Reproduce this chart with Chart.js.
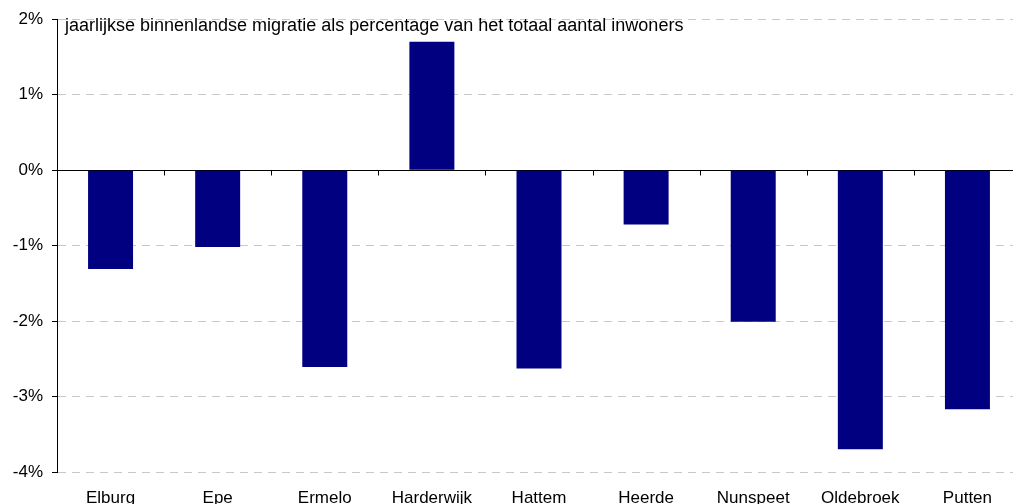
<!DOCTYPE html>
<html>
<head>
<meta charset="utf-8">
<script src="https://cdn.jsdelivr.net/npm/chart.js@4.4.1/dist/chart.umd.min.js"></script>
<style>
  html, body { margin: 0; padding: 0; background: #fff; overflow: hidden; }
  #wrap { width: 1021px; height: 504px; position: relative; }
</style>
</head>
<body>
<div id="wrap"><canvas id="c"></canvas></div>
<script>
// Gemeenten en jaarlijkse binnenlandse migratie (% van het aantal inwoners)
const gemeenten = ['Elburg', 'Epe', 'Ermelo', 'Harderwijk', 'Hattem', 'Heerde', 'Nunspeet', 'Oldebroek', 'Putten'];
const migratie = [-1.31, -1.02, -2.61, 1.70, -2.63, -0.72, -2.01, -3.70, -3.17];
const yTicks = [2, 1, 0, -1, -2, -3, -4];
const titel = 'jaarlijkse binnenlandse migratie als percentage van het totaal aantal inwoners';

const FONT = '"Liberation Sans", Arial, Helvetica, sans-serif';

// Nullijn met maatstreepjes tussen de categorieën, plus de titel in het plotvlak
const axisExtras = {
  id: 'axisExtras',
  beforeDatasetsDraw(chart) {
    const { ctx, chartArea, scales } = chart;
    const y0 = Math.round(scales.y.getPixelForValue(0)) + 0.5;
    ctx.save();
    ctx.strokeStyle = '#000';
    ctx.lineWidth = 1;
    ctx.setLineDash([]);
    ctx.beginPath();
    ctx.moveTo(chartArea.left, y0);
    ctx.lineTo(chartArea.right, y0);
    const xs = scales.x;
    for (let i = 1; i < gemeenten.length; i++) {
      const x = Math.round((xs.getPixelForValue(i - 1) + xs.getPixelForValue(i)) / 2) + 0.5;
      ctx.moveTo(x, y0);
      ctx.lineTo(x, y0 + 5);
    }
    ctx.stroke();
    ctx.restore();
  },
  afterDraw(chart) {
    const { ctx, chartArea } = chart;
    ctx.save();
    ctx.fillStyle = '#000';
    ctx.font = '18px ' + FONT;
    ctx.textBaseline = 'middle';
    ctx.textAlign = 'left';
    ctx.fillText(titel, chartArea.left + 8, chartArea.top + 7);
    ctx.restore();
  }
};

new Chart(document.getElementById('c'), {
  type: 'bar',
  data: {
    labels: gemeenten,
    datasets: [{
      data: migratie,
      backgroundColor: '#000080',
      borderWidth: 0,
      barPercentage: 0.42,
      categoryPercentage: 1.0
    }]
  },
  options: {
    responsive: true,
    maintainAspectRatio: false,
    animation: false,
    layout: { padding: { top: 19, left: 0, right: 0, bottom: 0 } },
    plugins: { legend: { display: false }, tooltip: { enabled: false }, title: { display: false } },
    scales: {
      x: {
        grid: { display: false, drawTicks: false },
        border: { display: false },
        ticks: {
          color: '#000',
          font: { family: FONT, size: 17 },
          padding: 16,
          maxRotation: 0,
          autoSkip: false
        },
        afterFit(scale) { scale.height = 32; }
      },
      y: {
        min: -4,
        max: 2,
        afterBuildTicks(scale) { scale.ticks = yTicks.map(v => ({ value: v })); },
        grid: {
          color: (c) => (c.tick && c.tick.value === 0) ? 'rgba(0,0,0,0)' : '#c8c8c8',
          lineWidth: 1,
          drawTicks: true,
          tickLength: 5,
          tickColor: '#000'
        },
        border: { display: true, color: '#000', width: 1, dash: [8, 6] },
        ticks: {
          color: '#000',
          font: { family: FONT, size: 17 },
          padding: 9,
          callback: (v) => v + '%'
        },
        afterFit(scale) { scale.width = 57; }
      }
    }
  },
  plugins: [axisExtras]
});
</script>
</body>
</html>
